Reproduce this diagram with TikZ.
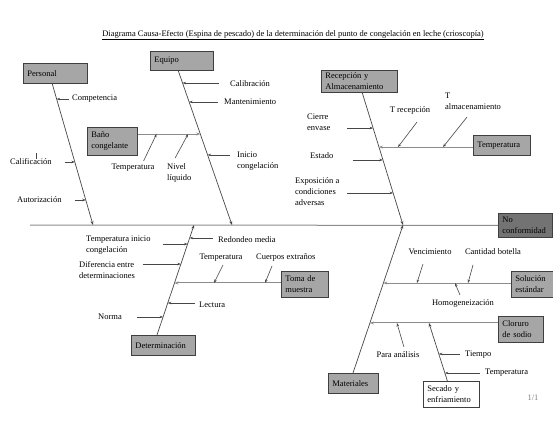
\documentclass[tikz,border=0pt]{standalone}
\usepackage{fontspec}
\setmainfont{Liberation Serif}
\usetikzlibrary{arrows.meta, positioning, calc}
\definecolor{cgris}{HTML}{A6A6A6}
\definecolor{coscuro}{HTML}{737373}
\definecolor{cborde}{HTML}{3F3F3F}
\definecolor{clinea}{HTML}{474747}
\definecolor{cespina}{HTML}{8C8C8C}
\tikzset{
  every picture/.style={x=1pt, y=-1pt, font=\fontsize{8.5}{11}\selectfont},
  caja/.style={draw=cborde, fill=cgris, line width=0.8pt, anchor=north west, align=left, inner xsep=4pt, inner ysep=1pt, text width=#1},
  caja/.default=40pt,
  hueso/.style={draw=clinea, line width=0.7pt, -{Stealth[length=4pt, width=3pt]}},
  rama/.style={draw=cespina, line width=1pt, -{Stealth[length=4pt, width=3pt]}},
  flecha/.style={draw=clinea, line width=0.6pt, -{Stealth[length=3.5pt, width=2.5pt]}},
  causa/.style={inner sep=1pt, align=left},
}

\begin{document}
\begin{tikzpicture}
  \useasboundingbox[fill=white] (0,0) rectangle (553,423);
  \node (titulo) at (293,35) {\underline{Diagrama Causa-Efecto (Espina de pescado) de la determinación del punto de congelación en leche (crioscopía)}};

  % cajas de causas
  \node[caja=56pt, minimum height=20pt] (personal) at (23,63) {Personal};
  \node[caja=55pt, minimum height=19pt] (equipo) at (150,51) {Equipo};
  \node[caja=42pt, minimum height=28pt] (bano) at (87,127) {Baño\\congelante};
  \node[caja=68pt, minimum height=22pt] (recepcion) at (321,70) {Recepción y\\Almacenamiento};
  \node[caja=49pt, minimum height=20pt] (temperatura) at (473,135) {Temperatura};
  \node[caja=39pt, minimum height=26pt] (toma) at (281,271) {Toma de\\muestra};
  \node[caja=56pt, minimum height=20pt] (determinacion) at (131,335) {Determinación};
  \node[caja=42pt, minimum height=20pt] (materiales) at (328,373) {Materiales};
  \node[caja=34pt, minimum height=26pt] (solucion) at (511,271) {Solución\\estándar};
  \node[caja=37pt, minimum height=26pt] (cloruro) at (498,316) {Cloruro\\de sodio};
  \node[caja=48pt, minimum height=26pt, fill=white] (secado) at (423,381) {Secado y\\enfriamiento};
  \node[caja=46pt, minimum height=24pt, fill=coscuro] (efecto) at (498,213) {No\\conformidad};

  % espina central
  \coordinate (inicio) at (30,225);
  \draw[rama, -] (inicio) -- (efecto.west);

  % Personal
  \coordinate (pA) at (52,83);
  \coordinate (pB) at (93,225);
  \draw[hueso] (pA) -- (pB);
  \coordinate (p1) at ($(pA)!0.113!(pB)$);
  \coordinate (p2) at ($(pA)!0.556!(pB)$);
  \coordinate (p3) at ($(pA)!0.824!(pB)$);
  \draw[flecha] (p1) ++(12,0) -- (p1);
  \draw[flecha] (p2) ++(-10,0) -- (p2);
  \draw[flecha] (p3) ++(-11,0) -- (p3);
  \draw[clinea, line width=0.6pt] (36,153) -- (36,159);
  \node[causa, anchor=west] (competencia) at (71,99) {Competencia};
  \node[causa, anchor=west] (calificacion) at (9,162) {Calificación};
  \node[causa, anchor=west] (autorizacion) at (16,200) {Autorización};

  % Equipo
  \coordinate (qA) at (178,70);
  \coordinate (qB) at (232,225);
  \draw[hueso] (qA) -- (qB);
  \coordinate (q1) at ($(qA)!0.084!(qB)$);
  \coordinate (q2) at ($(qA)!0.206!(qB)$);
  \coordinate (q3) at ($(qA)!0.413!(qB)$);
  \coordinate (q4) at ($(qA)!0.548!(qB)$);
  \draw[flecha] (q1) ++(36,0) -- (q1);
  \draw[flecha] (q2) ++(29,0) -- (q2);
  \draw[flecha] (q4) ++(22,0) -- (q4);
  \node[causa, anchor=west] (calibracion) at (229,84) {Calibración};
  \node[causa, anchor=west] (mantenimiento) at (223,102) {Mantenimiento};
  \node[causa, anchor=west] (inicioc) at (236,161) {Inicio\\congelación};
  \draw[rama] (q3 -| bano.east) coordinate (qb) -- (q3);
  \coordinate (qb1) at ($(qb)!0.30!(q3)$);
  \coordinate (qb2) at ($(qb)!0.805!(q3)$);
  \draw[flecha] (qb1) ++(-13,27) -- (qb1);
  \draw[flecha] (qb2) ++(-13,24) -- (qb2);
  \node[causa] (tempbano) at (133,168) {Temperatura};
  \node[causa, anchor=west] (nivel) at (166,173) {Nivel\\líquido};

  % Recepción y almacenamiento
  \coordinate (rA) at (362,92);
  \coordinate (rB) at (403,225);
  \draw[hueso] (rA) -- (rB);
  \coordinate (r1) at ($(rA)!0.271!(rB)$);
  \coordinate (r2) at ($(rA)!0.414!(rB)$);
  \coordinate (r3) at ($(rA)!0.511!(rB)$);
  \coordinate (r4) at ($(rA)!0.759!(rB)$);
  \draw[flecha] (r1) ++(-26,0) -- (r1);
  \draw[flecha] (r3) ++(-30,0) -- (r3);
  \draw[flecha] (r4) ++(-46,0) -- (r4);
  \node[causa, anchor=west] (cierre) at (306,122) {Cierre\\envase};
  \node[causa, anchor=west] (estado) at (309,156) {Estado};
  \node[causa, anchor=west] (exposicion) at (294,192) {Exposición a\\condiciones\\adversas};
  \draw[rama] (r2 -| temperatura.west) coordinate (rt) -- (r2);
  \coordinate (rt1) at ($(rt)!0.798!(r2)$);
  \coordinate (rt2) at ($(rt)!0.319!(r2)$);
  \draw[flecha] (rt1) ++(19,-25) -- (rt1);
  \draw[flecha] (rt2) ++(24,-30) -- (rt2);
  \node[causa] (trecepcion) at (410,110) {T recepción};
  \node[causa, anchor=west] (talmacen) at (444,101) {T\\almacenamiento};

  % Determinación
  \coordinate (dA) at (157,335);
  \coordinate (dB) at (194,225);
  \draw[hueso] (dA) -- (dB);
  \coordinate (d1) at ($(dA)!0.882!(dB)$);
  \coordinate (d2) at ($(dA)!0.827!(dB)$);
  \coordinate (d3) at ($(dA)!0.645!(dB)$);
  \coordinate (d4) at ($(dA)!0.473!(dB)$);
  \coordinate (d5) at ($(dA)!0.291!(dB)$);
  \coordinate (d6) at ($(dA)!0.164!(dB)$);
  \draw[flecha] (d1) ++(23,0) -- (d1);
  \draw[flecha] (d2) ++(-25,0) -- (d2);
  \draw[flecha] (d3) ++(-38,0) -- (d3);
  \draw[flecha] (d5) ++(27,0) -- (d5);
  \draw[flecha] (d6) ++(-26,0) -- (d6);
  \node[causa, anchor=west] (redondeo) at (217,240) {Redondeo media};
  \node[causa, anchor=west] (tempinicio) at (85,245) {Temperatura inicio\\congelación};
  \node[causa, anchor=west] (diferencia) at (78,270) {Diferencia entre\\determinaciones};
  \node[causa, anchor=west] (lectura) at (198,305) {Lectura};
  \node[causa, anchor=west] (norma) at (97,317) {Norma};
  \draw[rama] (d4 -| toma.west) coordinate (dt) -- (d4);
  \coordinate (dt1) at ($(dt)!0.629!(d4)$);
  \coordinate (dt2) at ($(dt)!0.150!(d4)$);
  \draw[flecha] (dt1) ++(9,-18) -- (dt1);
  \draw[flecha] (dt2) ++(7,-17) -- (dt2);
  \node[causa] (temptoma) at (221,258) {Temperatura};
  \node[causa, anchor=west] (cuerpos) at (255,258) {Cuerpos extraños};

  % Materiales
  \coordinate (mA) at (353,373);
  \coordinate (mB) at (403,225);
  \draw[hueso] (mA) -- (mB);
  \coordinate (m1) at ($(mA)!0.608!(mB)$);
  \coordinate (m2) at ($(mA)!0.338!(mB)$);
  \draw[rama] (m1 -| solucion.west) coordinate (ms) -- (m1);
  \coordinate (ms1) at ($(ms)!0.737!(m1)$);
  \coordinate (ms2) at ($(ms)!0.337!(m1)$);
  \coordinate (ms3) at ($(ms)!0.439!(m1)$);
  \draw[flecha] (ms1) ++(6,-19) -- (ms1);
  \draw[flecha] (ms2) ++(5,-18) -- (ms2);
  \draw[flecha] (ms3) ++(5,12) -- (ms3);
  \node[causa] (vencimiento) at (430,252) {Vencimiento};
  \node[causa] (cantidad) at (493,252) {Cantidad botella};
  \node[causa] (homogeneizacion) at (463,303) {Homogeneización};
  \draw[rama] (m2 -| cloruro.west) coordinate (mc) -- (m2);
  \coordinate (mc1) at ($(mc)!0.789!(m2)$);
  \coordinate (mc2) at ($(mc)!0.539!(m2)$);
  \draw[flecha] (mc1) ++(7,24) -- (mc1);
  \node[causa] (analisis) at (398,355) {Para análisis};
  \coordinate (sA) at ([xshift=-4pt]secado.north);
  \draw[hueso] (sA) -- (mc2);
  \coordinate (s1) at ($(sA)!0.466!(mc2)$);
  \coordinate (s2) at ($(sA)!0.138!(mc2)$);
  \draw[flecha] (s1) ++(21,0) -- (s1);
  \draw[flecha] (s2) ++(35,0) -- (s2);
  \node[causa, anchor=west] (tiempo) at (464,355) {Tiempo};
  \node[causa, anchor=west] (tempsecado) at (484,373) {Temperatura};

  \node[causa, text=gray] (pagina) at (533,398) {1/1};
\end{tikzpicture}
\end{document}
